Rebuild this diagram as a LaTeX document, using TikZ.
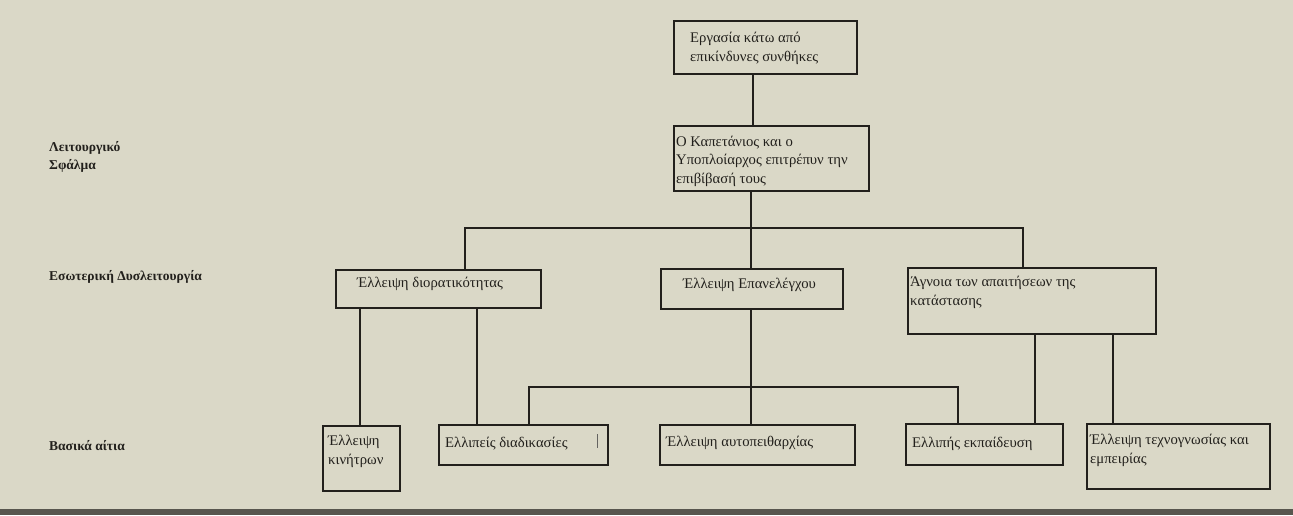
\documentclass[tikz,border=0pt]{standalone}
\usepackage{fontspec}
\setmainfont{Liberation Serif}
\definecolor{paper}{RGB}{218,216,199}
\definecolor{ink}{RGB}{34,32,28}
\definecolor{edge}{RGB}{88,86,78}
\tikzset{
  box/.style={draw=ink, line width=1.6pt, inner sep=0pt, anchor=north west},
  % multi-line texts: the base anchor sits on the last line
  txt/.style={inner sep=0pt, anchor=base west, align=left, text=ink,
              font=\fontsize{14.7}{18.5}\selectfont},
  lvl/.style={inner sep=0pt, anchor=base west, align=left, text=ink,
              font=\bfseries\fontsize{13.5}{17.5}\selectfont},
  wire/.style={draw=ink, line width=1.5pt}
}
\begin{document}
\begin{tikzpicture}[x=1pt, y=-1pt]
% page
\fill[paper] (0,0) rectangle (1293,515);
\fill[edge] (0,509) rectangle (1293,515);
\useasboundingbox (0,0) rectangle (1293,515);

% level captions
\node[lvl] (capA) at (49,169) {Λειτουργικό\\Σφάλμα};
\node[lvl] (capB) at (49,280) {Εσωτερική Δυσλειτουργία};
\node[lvl] (capC) at (49,450) {Βασικά αίτια};

% boxes: (left,top), width x height
\node[box, minimum width=183pt, minimum height=53pt] (top)  at (673,20)  {};
\node[box, minimum width=195pt, minimum height=65pt] (kap)  at (673,125) {};
\node[box, minimum width=205pt, minimum height=38pt] (dior) at (335,269) {};
\node[box, minimum width=182pt, minimum height=40pt] (epan) at (660,268) {};
\node[box, minimum width=248pt, minimum height=66pt] (agn)  at (907,267) {};
\node[box, minimum width=77pt,  minimum height=65pt] (kin)  at (322,425) {};
\node[box, minimum width=169pt, minimum height=40pt] (diad) at (438,424) {};
\node[box, minimum width=195pt, minimum height=40pt] (auto) at (659,424) {};
\node[box, minimum width=157pt, minimum height=41pt] (ekp)  at (905,423) {};
\node[box, minimum width=183pt, minimum height=65pt] (tech) at (1086,423) {};

% box texts
\node[txt] (topT)  at (690,61)   {Εργασία κάτω από\\επικίνδυνες συνθήκες};
\node[txt] (kapT)  at (676,183)  {Ο Καπετάνιος και ο\\Υποπλοίαρχος επιτρέπυν την\\επιβίβασή τους};
\node[txt] (diorT) at (357,287)  {Έλλειψη διορατικότητας};
\node[txt] (epanT) at (683,288)  {Έλλειψη Επανελέγχου};
\node[txt] (agnT)  at (910,305)  {Άγνοια των απαιτήσεων της\\κατάστασης};
\node[txt] (kinT)  at (328,464)  {Έλλειψη\\κινήτρων};
\node[txt] (diadT) at (445,447)  {Ελλιπείς διαδικασίες};
\node[txt] (autoT) at (666,446)  {Έλλειψη αυτοπειθαρχίας};
\node[txt] (ekpT)  at (912,447)  {Ελλιπής εκπαίδευση};
\node[txt] (techT) at (1090,463) {Έλλειψη τεχνογνωσίας και\\εμπειρίας};

% stray caret mark inside a box
\draw[ink!70, line width=0.6pt] ([xshift=-11pt,yshift=-10pt]diad.north east) -- ([xshift=-11pt,yshift=-24pt]diad.north east);

% connectors
\coordinate (busA) at (0,228);
\coordinate (busB) at (0,387);
\draw[wire] (top.south -| 753,0) -- (kap.north -| 753,0);
\draw[wire] (kap.south -| 751,0) -- (epan.north -| 751,0);
\draw[wire] (dior.north -| 465,0) -- (busA -| 465,0) -- (busA -| 1023,0) -- (agn.north -| 1023,0);
\draw[wire] (dior.south -| 360,0) -- (kin.north -| 360,0);
\draw[wire] (dior.south -| 477,0) -- (diad.north -| 477,0);
\draw[wire] (epan.south -| 751,0) -- (auto.north -| 751,0);
\draw[wire] (diad.north -| 529,0) -- (busB -| 529,0) -- (busB -| 958,0) -- (ekp.north -| 958,0);
\draw[wire] (agn.south -| 1035,0) -- (ekp.north -| 1035,0);
\draw[wire] (agn.south -| 1113,0) -- (tech.north -| 1113,0);
\end{tikzpicture}
\end{document}
